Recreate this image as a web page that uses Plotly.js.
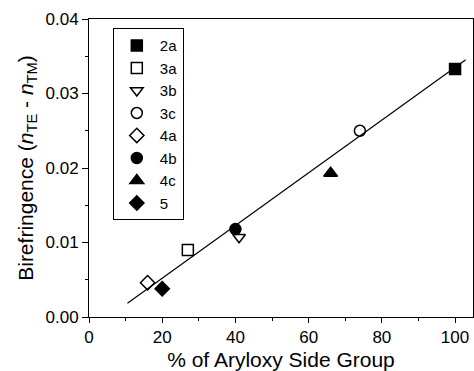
<!DOCTYPE html>
<html>
<head>
<meta charset="utf-8">
<script src="https://cdn.plot.ly/plotly-3.0.1.min.js"></script>
<style>html,body{margin:0;padding:0;background:#fff;}#chart{width:474px;height:371px;}</style>
</head>
<body>
<div id="chart"></div>
<script>
// Data
const seriesNames = ["2a", "3a", "3b", "3c", "4a", "4b", "4c", "5"];
const seriesX = [100, 27, 41, 74, 16, 40, 66, 20];
const seriesY = [0.0333, 0.0090, 0.0107, 0.0250, 0.0046, 0.0118, 0.0193, 0.0038];
const seriesSymbols = ["square", "square-open", "triangle-down-open", "circle-open", "diamond-open", "circle", "triangle-up", "diamond"];
const seriesSizes = [11, 11, 11, 11, 11, 11, 12, 11];
// Linear fit endpoints
const fitX = [10.5, 102.9];
const fitY = [0.00184, 0.03453];

const traces = [];
traces.push({
  x: fitX, y: fitY, mode: "lines", type: "scatter",
  line: {color: "#000", width: 1.2}, showlegend: false, hoverinfo: "skip"
});
seriesNames.forEach(function (name, i) {
  traces.push({
    x: [seriesX[i]], y: [seriesY[i]], name: name, mode: "markers", type: "scatter",
    marker: {symbol: seriesSymbols[i], size: seriesSizes[i], color: "#000",
             line: {color: "#000", width: 1.5}}
  });
});

const font = "Liberation Sans, Arial, sans-serif";
const layout = {
  width: 474, height: 371,
  margin: {l: 89, r: 1, t: 19, b: 54},
  paper_bgcolor: "#fff", plot_bgcolor: "#fff",
  font: {family: font, color: "#000", size: 17},
  showlegend: true,
  legend: {
    x: 0.062, y: 0.969, xanchor: "left", yanchor: "top",
    bordercolor: "#000", borderwidth: 1, bgcolor: "#fff",
    font: {family: font, size: 15, color: "#000"},
    itemwidth: 36,
    entrywidth: 36
  },
  xaxis: {
    range: [0, 104.9], dtick: 20, tick0: 0,
    ticks: "outside", ticklen: 5, tickwidth: 1, tickcolor: "#000",
    minor: {dtick: 10, ticks: "outside", ticklen: 3, tickcolor: "#000"},
    showline: true, linecolor: "#000", linewidth: 1, mirror: true,
    showgrid: false, zeroline: false,
    tickfont: {size: 17},
    title: {text: "% of Aryloxy Side Group", font: {size: 21}, standoff: 5}
  },
  yaxis: {
    range: [0, 0.04], dtick: 0.01, tick0: 0, tickformat: ".2f",
    ticks: "outside", ticklen: 6, tickwidth: 1, tickcolor: "#000",
    minor: {dtick: 0.005, ticks: "outside", ticklen: 3, tickcolor: "#000"},
    showline: true, linecolor: "#000", linewidth: 1, mirror: true,
    showgrid: false, zeroline: false,
    tickfont: {size: 17},
    title: {text: "Birefringence (<i>n</i><sub>TE</sub> - <i>n</i><sub>TM</sub>)", font: {size: 21}, standoff: 6}
  }
};

Plotly.newPlot("chart", traces, layout, {displayModeBar: false, staticPlot: true});
</script>
</body>
</html>
